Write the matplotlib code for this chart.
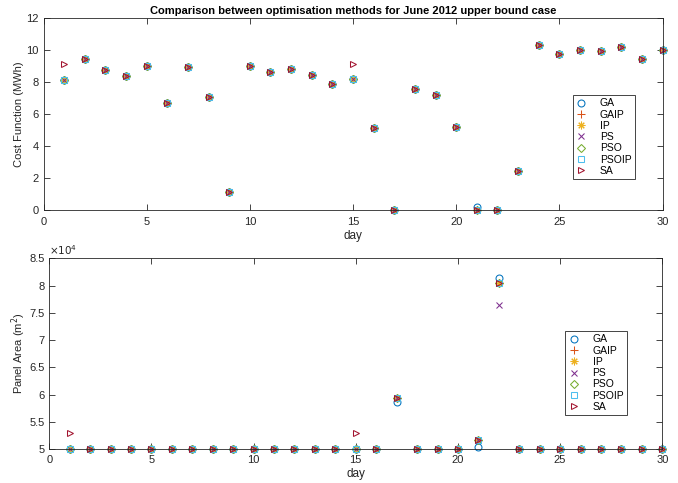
import numpy as np
import matplotlib
matplotlib.use("Agg")
import matplotlib.pyplot as plt
from matplotlib.ticker import FuncFormatter

plt.rcParams['font.family'] = ['Liberation Sans', 'DejaVu Sans']

days = np.arange(1, 31)

# cost function (MWh), common value for most methods
cost_common = [8.17, 9.48, 8.79, 8.42, 9.04, 6.73, 8.98, 7.08, 1.13, 9.04,
               8.67, 8.85, 8.48, 7.92, 8.23, 5.14, 0.03, 7.57, 7.24, 5.20,
               0.03, 0.03, 2.49, 10.34, 9.78, 10.01, 9.97, 10.22, 9.45, 10.01]
cost_ga = list(cost_common)
cost_ga[20] = 0.24
cost_sa = list(cost_common)
cost_sa[0] = 9.17
cost_sa[14] = 9.17

# panel area (m^2)
area_common = [50000] * 30
area_common[16] = 59300
area_common[20] = 51650
area_common[21] = 80400
area_ga = list(area_common)
area_ga[16] = 58600
area_ga[20] = 50400
area_ga[21] = 81400
area_ps = list(area_common)
area_ps[21] = 76400
area_sa = list(area_common)
area_sa[0] = 52900
area_sa[14] = 52900

methods = ['GA', 'GAIP', 'IP', 'PS', 'PSO', 'PSOIP', 'SA']
# matlab-like markers: o + * x d s >
markers = ['o', '+', (8, 2, 0), 'x', 'D', 's', '>']
msizes = [5, 6, 5.5, 5, 4.2, 4.2, 5]
colors = ['#0072BD', '#D95319', '#EDB120', '#7E2F8E', '#77AC30', '#4DBEEE', '#A2142F']

cost = {'GA': cost_ga, 'GAIP': cost_common, 'IP': cost_common, 'PS': cost_common,
        'PSO': cost_common, 'PSOIP': cost_common, 'SA': cost_sa}
area = {'GA': area_ga, 'GAIP': area_common, 'IP': area_common, 'PS': area_ps,
        'PSO': area_common, 'PSOIP': area_common, 'SA': area_sa}

axc = '#262626'
fig = plt.figure(figsize=(6.78, 4.83), dpi=100)
ax1 = fig.add_axes([0.0642, 0.5642, 0.9130, 0.3975])
ax2 = fig.add_axes([0.0727, 0.0704, 0.9041, 0.3948])


def style(ax):
    ax.set_xlim(0, 30)
    ax.set_xticks(range(0, 31, 5))
    ax.tick_params(direction='in', top=True, right=True, labelsize=8,
                   colors=axc, length=4, width=0.6)
    ax.tick_params(axis='x', pad=4.5)
    for s in ax.spines.values():
        s.set_color(axc)
        s.set_linewidth(0.6)
    ax.set_xlabel('day', fontsize=8.5, color=axc, labelpad=2)


for m, mk, ms, c in zip(methods, markers, msizes, colors):
    for ax, data in ((ax1, cost), (ax2, area)):
        ax.plot(days, data[m], linestyle='none', marker=mk, color=c, markersize=ms,
                markerfacecolor='none', markeredgewidth=0.75, label=m, clip_on=False)

style(ax1)
ax1.set_ylim(0, 12)
ax1.set_yticks(range(0, 13, 2))
ax1.set_ylabel('Cost Function (MWh)', fontsize=8, color=axc)
ax1.yaxis.set_label_coords(-0.0315, 0.5)
ax1.set_title('Comparison between optimisation methods for June 2012 upper bound case',
              fontsize=8, fontweight='bold', pad=3)

style(ax2)
ax2.set_ylim(50000, 85000)
ax2.set_yticks(np.arange(50000, 85001, 5000))
ax2.yaxis.set_major_formatter(FuncFormatter(lambda v, p: '%g' % (v / 1e4)))
ax2.set_ylabel('Panel Area (m$^2$)', fontsize=8, color=axc)
ax2.yaxis.set_label_coords(-0.035, 0.5)
ax2.text(0.0, 1.005, r'$\times10^4$', transform=ax2.transAxes, fontsize=7.5,
         color=axc, ha='left', va='bottom')

for ax, loc in ((ax1, (0.855, 0.164)), (ax2, (0.842, 0.178))):
    leg = ax.legend(loc='lower left', bbox_to_anchor=loc, fontsize=7.5,
                    fancybox=False, framealpha=1, edgecolor=axc,
                    handlelength=1.0, handletextpad=1.3, borderpad=0.3,
                    labelspacing=0.12, borderaxespad=0)
    leg.get_frame().set_linewidth(0.6)

fig.savefig('out.png', dpi=100)
